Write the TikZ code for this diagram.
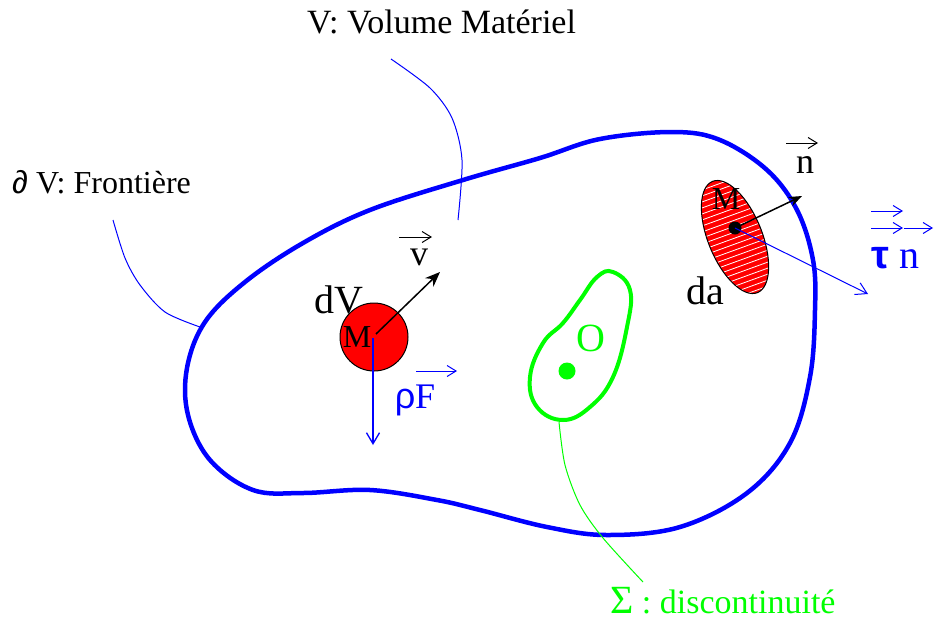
\documentclass[tikz,border=0pt]{standalone}
\usepackage{fontspec}
\setmainfont{Liberation Serif}
\newfontfamily\grk{Liberation Sans}
\usetikzlibrary{positioning,arrows.meta}

\begin{document}
\begin{tikzpicture}[
  x=1pt,y=-1pt,
  every node/.style={inner sep=0pt,font=\fontsize{32}{36}\selectfont},
  big/.style={font=\fontsize{40}{44}\selectfont},
  legende/.style={font=\fontsize{34}{36}\selectfont},
  point/.style={circle,fill=black,inner sep=0pt,minimum size=13pt},
  lead/.style={line width=1pt},
  vecbar/.style={line width=1pt,-{Straight Barb[length=9pt,width=11pt]}},
  fleche/.style={line width=1.5pt,-{Stealth[length=15pt,width=12pt]}},
  trait/.style={line width=1.3pt,-{Straight Barb[length=11pt,width=13pt]}}
]
\useasboundingbox (0,0) rectangle (934,622);

% frontière du volume
\draw[blue,line width=4.5pt] plot[smooth cycle,tension=0.6] coordinates {
  (673,132) (720,140) (767,170) (797,210) (813,260) (815,310) (810,377)
  (790,443) (747,493) (680,527) (607,535) (547,527) (480,510) (437,500)
  (370,490) (303,493) (253,490) (210,460) (188,415) (187,368) (205,322)
  (245,282) (303,243) (370,210) (463,180) (540,158) (600,139)};

% surface de discontinuité
\draw[green,line width=4pt] plot[smooth cycle,tension=0.7] coordinates {
  (613,272) (630,290) (627,327) (613,377) (590,407) (563,420) (537,407)
  (530,377) (543,343) (563,323) (580,300) (597,277)};
\node[point,fill=green,minimum size=17pt] (O) at (567,371) {};
\node[green,big] at (591,338) {O};

% élément de volume dV
\node[circle,draw,fill=red,line width=1pt,minimum size=68pt] (D) at (374,337) {};
\coordinate (M1) at (376,334);
\coordinate (Vt) at (440,272);
\coordinate (Ft) at (373,445);
\draw[fleche] (M1) -- (Vt);
\draw[blue,trait] (373,338) -- (Ft);
\node[big] (ldV) at (339,300) {dV};
\node (lM1) at (357,337) {M};
\node[font=\fontsize{36}{40}\selectfont] (lv) at (419,257) {v};
\draw[vecbar] ([shift={(-20,-20)}]lv.center) -- ++(33,0);
\node[blue,font=\fontsize{36}{40}\selectfont] (lF) at (415,400) {{\grk ρ}F};
\draw[blue,vecbar] ([shift={(1,-29)}]lF.center) -- ++(41,0);

% élément de surface da
\coordinate (E) at (735,237);
\fill[red,rotate around={-68:(E)}] (E) ellipse [x radius=60,y radius=27];
\begin{scope}
  \clip[rotate around={-68:(E)}] (E) ellipse [x radius=60,y radius=27];
  \foreach \i in {-90,-84,...,96}
    \draw[white,line width=0.8pt] ([shift={(-80,\i)}]E) -- ++(160,-58);
\end{scope}
\draw[line width=1pt,rotate around={-68:(E)}] (E) ellipse [x radius=60,y radius=27];
\node[point] (M2) at (735,228) {};
\coordinate (Nt) at (802,196);
\coordinate (Tt) at (868,294);
\draw[line width=1.5pt,-{Stealth[length=13pt,width=10pt]}] (M2.center) -- (Nt);
\draw[blue,line width=1pt,-{Straight Barb[length=11pt,width=13pt]}] (M2.center) -- (Tt);
\node (lM2) at (726,199) {M};
\node[big] (lda) at (705,291) {da};
\node[font=\fontsize{36}{40}\selectfont] (ln) at (805,165) {n};
\draw[vecbar] ([shift={(-19,-22)}]ln.center) -- ++(32,0);
\node[blue,big,anchor=base west] (lT) at (871,268) {{\grk\bfseries τ} n};
\draw[blue,vecbar] ([shift={(0,-57)}]lT.base west) -- ++(32,0);
\draw[blue,vecbar] ([shift={(0,-40)}]lT.base west) -- ++(32,0);
\draw[blue,vecbar] ([shift={(33,-40)}]lT.base west) -- ++(29,0);

% légendes
\node[legende,anchor=base west] (lV) at (307,33) {V: Volume Matériel};
\node[anchor=base west] (lB) at (12,193) {{\grk ∂} V: Frontière};
\node[green,legende,anchor=base west] (lS) at (610,613)
  {{\fontsize{40}{40}\selectfont Σ} : discontinuité};
\draw[blue,lead] plot[smooth] coordinates {(391,59) (430,88) (452,118) (462,160) (458,220)};
\draw[blue,lead] plot[smooth] coordinates {(113,220) (125,258) (140,285) (165,312) (200,327)};
\draw[green,lead] plot[smooth] coordinates {(559,422) (565,465) (580,505) (603,538) (643,582)};
\end{tikzpicture}
\end{document}
